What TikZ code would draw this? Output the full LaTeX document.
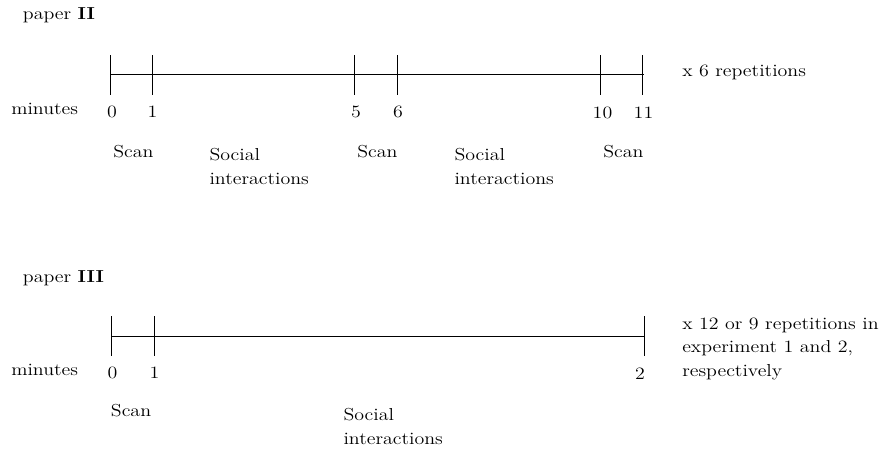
\documentclass[tikz,border=0pt]{standalone}
\usepackage{fontspec}
\setmainfont{Latin Modern Roman}[FakeStretch=1.15]
\newcommand\twoline[2]{\vtop{\hbox{#1}\hbox{#2}}}
\newcommand\threeline[3]{\vtop{\hbox{#1}\hbox{#2}\hbox{#3}}}
\tikzset{
  txt/.style={inner sep=0pt, anchor=base west, font=\fontsize{13}{17.8}\selectfont},
  num/.style={inner sep=0pt, anchor=base, font=\fontsize{13}{17.8}\selectfont},
  axis/.style={line width=0.8pt, line cap=butt},
}
\begin{document}
\begin{tikzpicture}[x=0.75pt,y=-0.75pt]
\useasboundingbox (0,0) rectangle (888,450);

% ---------- paper II ----------
\node[txt] (t2) at (22.7,19) {paper \textbf{II}};
\node[txt] (m2) at (11,114) {minutes};

\foreach \n/\x in {a0/110.5,a1/152.5,a5/354.5,a6/397.5,a10/600.5,a11/642.5}{
  \coordinate (\n t) at (\x,55);
  \coordinate (\n b) at (\x,94.5);
}
\coordinate (a0m) at (110.5,74.5);
\coordinate (aend) at (644,74.5);
\draw[axis] (a0m) -- (aend);
\foreach \n in {a0,a1,a5,a6,a10,a11}{
  \draw[axis] (\n t) -- (\n b);
}

\node[num] (l0) at (112,117.5) {0};
\node[num] (l1) at (152.5,117.5) {1};
\node[num] (l5) at (356,117.5) {5};
\node[num] (l6) at (398,117.5) {6};
\node[num] (l10) at (602.5,118) {10};
\node[num] (l11) at (643.5,118) {11};

\node[txt] (s1) at (113,157) {Scan};
\node[txt] (s2) at (357,157) {Scan};
\node[txt] (s3) at (603,157) {Scan};
\node[txt] (si1) at (209.3,160.5) {\twoline{Social}{interactions}};
\node[txt] (si2) at (454.3,160.5) {\twoline{Social}{interactions}};

\node[txt] (r2) at (682,76) {x 6 repetitions};

% ---------- paper III ----------
\node[txt] (t3) at (22.7,282) {paper \textbf{III}};
\node[txt] (m3) at (11,375.5) {minutes};

\foreach \n/\x in {b0/111.5,b1/154.5,b2/644.5}{
  \coordinate (\n t) at (\x,316);
  \coordinate (\n b) at (\x,356);
}
\coordinate (b0m) at (111.5,336.5);
\coordinate (bend) at (644.5,336.5);
\draw[axis] (b0m) -- (bend);
\foreach \n in {b0,b1,b2}{
  \draw[axis] (\n t) -- (\n b);
}

\node[num] (k0) at (112.5,378.5) {0};
\node[num] (k1) at (154.5,378.5) {1};
\node[num] (k2) at (640,379) {2};

\node[txt] (s4) at (110.7,416.7) {Scan};
\node[txt] (si3) at (343.3,420.7) {\twoline{Social}{interactions}};

\node[txt] (r3) at (682,329) {\threeline{x 12 or 9 repetitions in}{experiment 1 and 2,}{respectively}};
\end{tikzpicture}
\end{document}
